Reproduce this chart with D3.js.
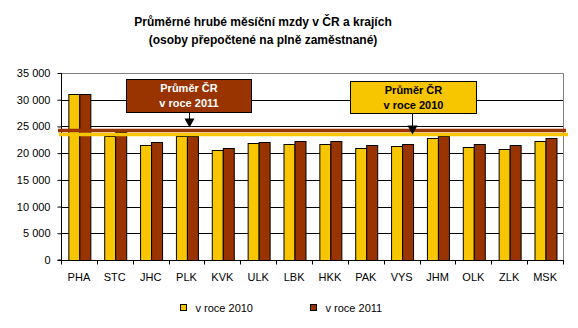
<!DOCTYPE html>
<html>
<head>
<meta charset="utf-8">
<script src="https://cdn.jsdelivr.net/npm/d3@7/dist/d3.min.js"></script>
<style>
  html, body { margin: 0; padding: 0; background: #fff; }
  svg { display: block; font-family: "Liberation Sans", Arial, sans-serif; }
</style>
</head>
<body>
<svg id="chart" width="578" height="328"></svg>
<script>
// Regions (kraje) of the Czech Republic
const regions = ["PHA", "STC", "JHC", "PLK", "KVK", "ULK", "LBK", "HKK", "PAK", "VYS", "JHM", "OLK", "ZLK", "MSK"];
// Average gross monthly wage (CZK)
const wages2010 = [31000, 23150, 21470, 23150, 20590, 21840, 21650, 21650, 20900, 21280, 22770, 21090, 20710, 22200];
const wages2011 = [31050, 23960, 22030, 23180, 20900, 22030, 22200, 22200, 21470, 21650, 23300, 21650, 21470, 22770];
// National averages
const avg2010 = 23490;
const avg2011 = 24240;
const yTicks = [0, 5000, 10000, 15000, 20000, 25000, 30000, 35000];
const seriesNames = ["v roce 2010", "v roce 2011"];
const colors = ["#F7C600", "#993300"];

const svg = d3.select("#chart");
const plotLeft = 61, plotRight = 563, plotTop = 73, plotBottom = 260;

const x = d3.scaleBand().domain(regions).range([plotLeft, plotRight]).paddingInner(0.41).paddingOuter(0.205);
const xs = d3.scaleBand().domain([0, 1]).range([0, x.bandwidth()]);
const y = d3.scaleLinear().domain([0, 35000]).range([plotBottom, plotTop]);

const fmt = v => d3.format(",")(v).replace(/,/g, " ");

// Title
const title = svg.append("text").attr("text-anchor", "middle")
  .attr("font-weight", "bold").attr("font-size", 12).attr("fill", "#000");
title.append("tspan").attr("x", 263).attr("y", 26).text("Průměrné hrubé měsíční mzdy v ČR a krajích");
title.append("tspan").attr("x", 263).attr("y", 44).text("(osoby přepočtené na plně zaměstnané)");

// Gridlines
svg.append("g").selectAll("line").data(yTicks.filter(d => d > 0)).join("line")
  .attr("x1", plotLeft).attr("x2", plotRight)
  .attr("y1", d => Math.round(y(d)) + 0.5).attr("y2", d => Math.round(y(d)) + 0.5)
  .attr("stroke", "#000").attr("stroke-width", 1);

// Plot area border (top/right)
svg.append("path")
  .attr("d", `M${plotLeft},${plotTop + 0.5}H${plotRight + 0.5}V${plotBottom}`)
  .attr("fill", "none").attr("stroke", "#808080");

// Bars
const groups = svg.append("g").selectAll("g").data(regions).join("g")
  .attr("transform", d => `translate(${x(d)},0)`);
[wages2010, wages2011].forEach((vals, si) => {
  groups.append("rect")
    .attr("x", (d, i) => Math.round(xs(si)) + 0.5)
    .attr("y", (d, i) => Math.round(y(vals[i])) + 0.5)
    .attr("width", Math.round(xs.bandwidth()))
    .attr("height", (d, i) => Math.round(plotBottom - y(vals[i])))
    .attr("fill", colors[si]).attr("stroke", "#000").attr("stroke-width", 1);
});

// Y axis
const yAxis = svg.append("g").attr("transform", `translate(${plotLeft + 0.5},0)`)
  .call(d3.axisLeft(y).tickValues(yTicks).tickFormat(fmt).tickSize(4).tickPadding(7));
yAxis.selectAll("text").attr("font-size", 11).attr("font-family", "Liberation Sans, Arial, sans-serif").attr("fill", "#000");
yAxis.selectAll("line, path").attr("stroke", "#000");
yAxis.select("path").attr("d", `M-4,${plotBottom}H0V${plotTop}`);

// X axis: tick marks sit on the category boundaries
const xAxis = svg.append("g").attr("transform", `translate(0,${plotBottom + 0.5})`);
xAxis.append("line").attr("x1", plotLeft).attr("x2", plotRight + 1).attr("stroke", "#000");
const boundary = i => Math.round(plotLeft + i * x.step()) + 0.5;
xAxis.selectAll("line.tick").data(d3.range(regions.length + 1)).join("line")
  .attr("class", "tick")
  .attr("x1", boundary).attr("x2", boundary)
  .attr("y1", 0).attr("y2", 4).attr("stroke", "#000");
xAxis.selectAll("text").data(regions).join("text")
  .attr("x", d => x(d) + x.bandwidth() / 2)
  .attr("y", 20).attr("text-anchor", "middle").attr("font-size", 11).attr("fill", "#000")
  .text(d => d);

// National average lines
[[avg2011, colors[1], 58, 566], [avg2010, colors[0], 59, 568]].forEach(([v, c, x1, x2]) => {
  svg.append("line").attr("x1", x1).attr("x2", x2)
    .attr("y1", y(v)).attr("y2", y(v))
    .attr("stroke", c).attr("stroke-width", 3.5);
});

// Callouts
function callout(bx, by, bw, bh, fill, textColor, lines, ax, tipY) {
  const g = svg.append("g");
  g.append("line").attr("x1", ax).attr("x2", ax).attr("y1", by + bh).attr("y2", tipY - 8)
    .attr("stroke", "#000").attr("stroke-width", 1);
  g.append("path").attr("d", `M${ax - 5},${tipY - 9}L${ax + 5},${tipY - 9}L${ax},${tipY}Z`).attr("fill", "#000");
  g.append("rect").attr("x", bx + 0.5).attr("y", by + 0.5).attr("width", bw).attr("height", bh)
    .attr("fill", fill).attr("stroke", "#000").attr("stroke-width", 1);
  const t = g.append("text").attr("text-anchor", "middle").attr("font-weight", "bold")
    .attr("font-size", 11).attr("fill", textColor);
  lines.forEach((s, i) => t.append("tspan").attr("x", bx + bw / 2 + 0.5).attr("y", by + 13 + i * 14.5).text(s));
}
callout(126, 79, 125, 33, colors[1], "#fff", ["Průměr ČR", "v roce 2011"], 189.5, y(avg2011) - 3);
callout(350, 81, 126, 32, colors[0], "#000", ["Průměr ČR", "v roce 2010"], 412.5, y(avg2010));

// Legend
const legend = svg.append("g");
[[180, 195.5], [310, 325.5]].forEach(([sx, tx], i) => {
  legend.append("rect").attr("x", sx + 0.5).attr("y", 304.5).attr("width", 6).attr("height", 6)
    .attr("fill", colors[i]).attr("stroke", "#000");
  legend.append("text").attr("x", tx).attr("y", 312).attr("font-size", 11).attr("fill", "#000").text(seriesNames[i]);
});
</script>
</body>
</html>
